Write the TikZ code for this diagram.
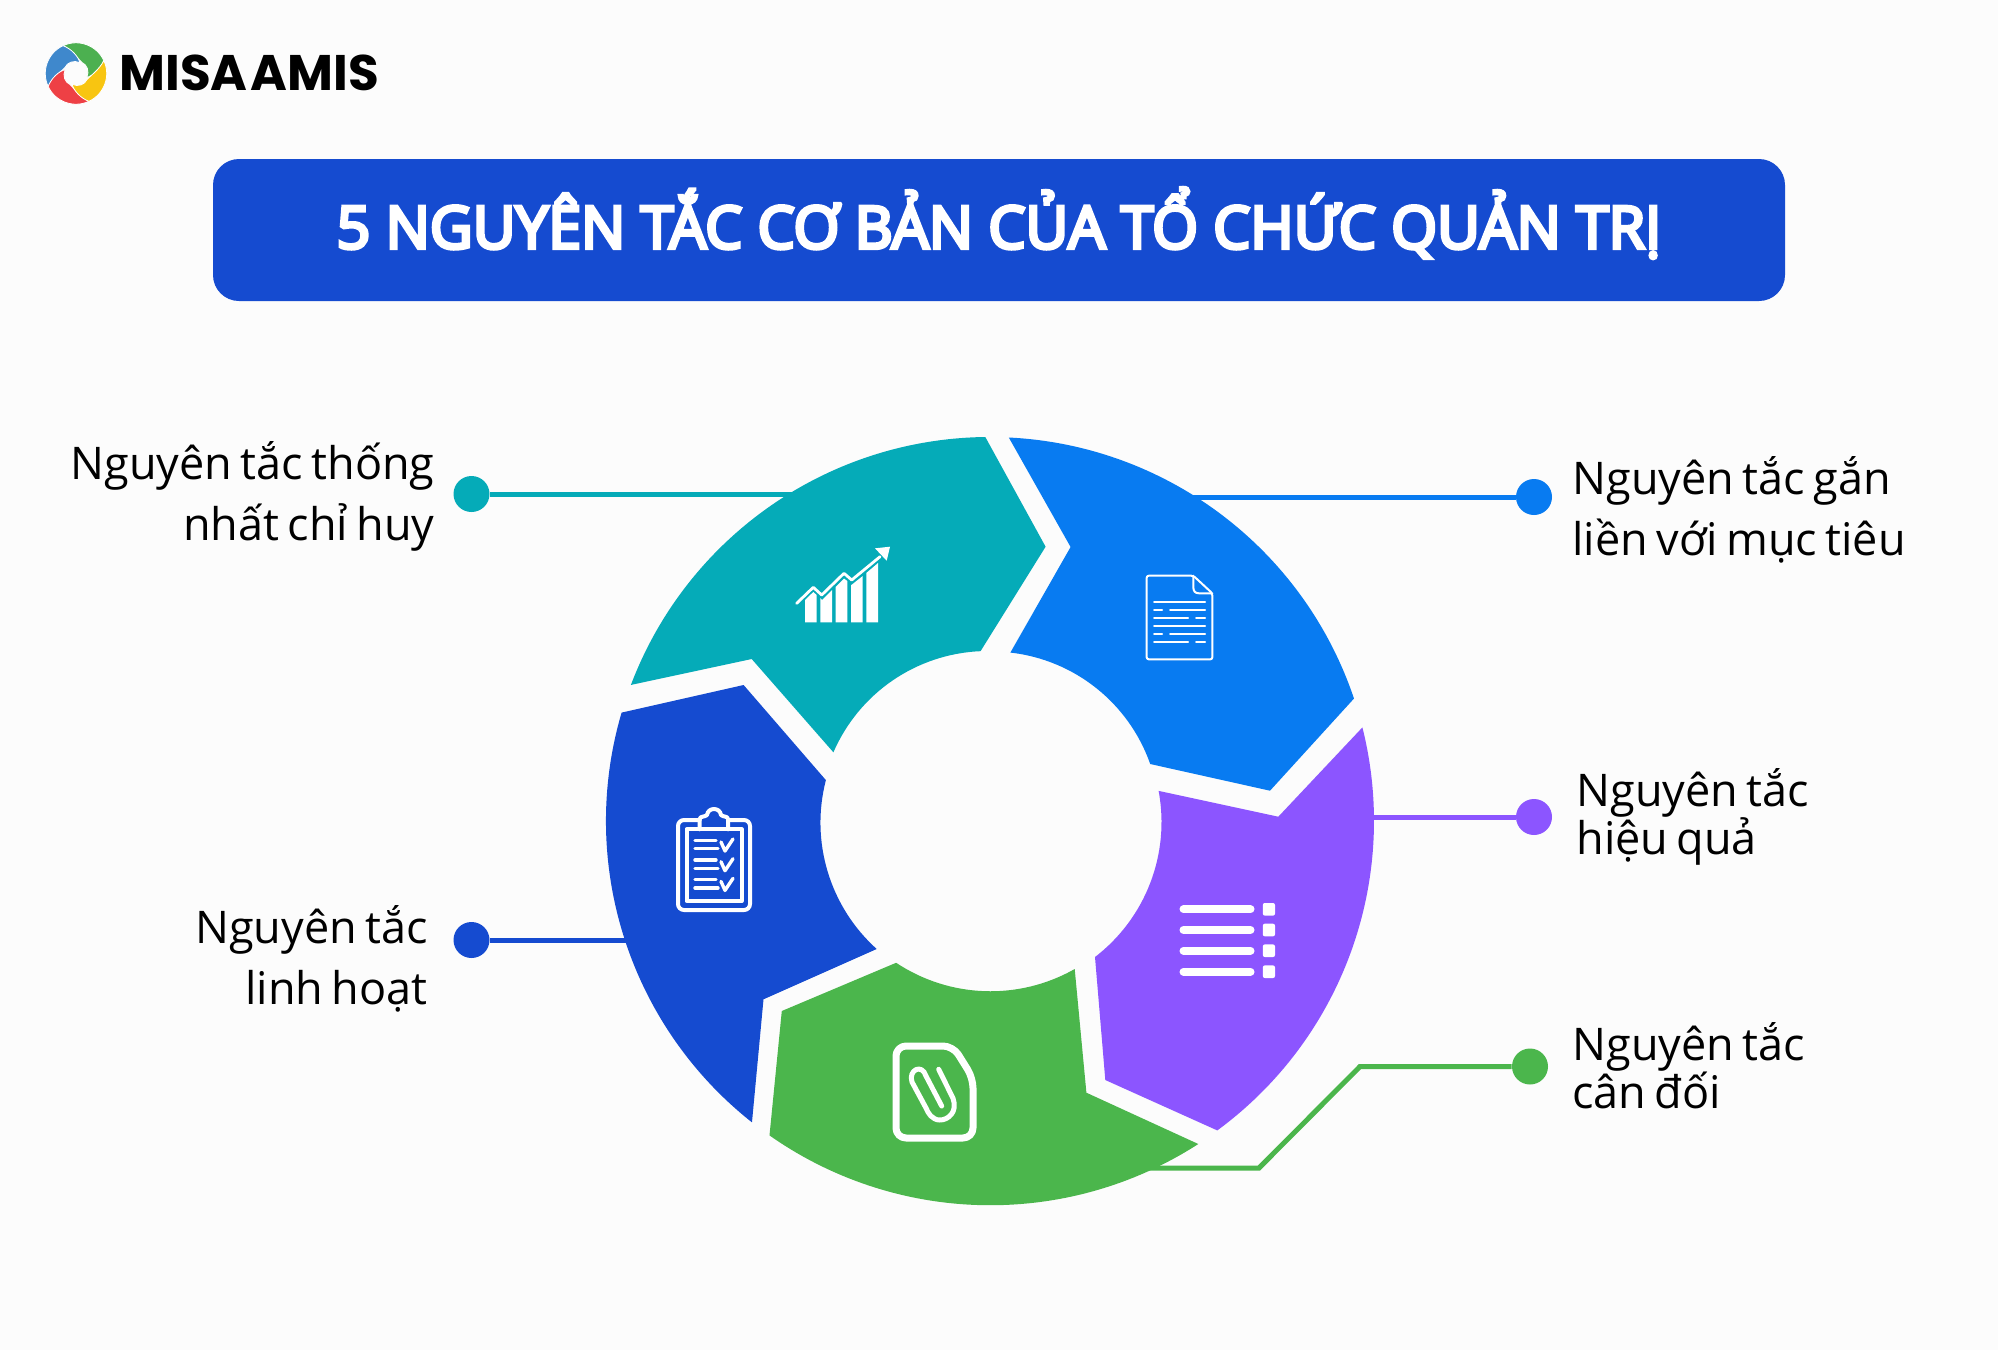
\documentclass[tikz,border=0pt]{standalone}
\usepackage{fontspec}
\setmainfont{Open Sans}[WordSpace=0.72]
\newfontfamily\titlefont{Open Sans}[FakeBold=6]
\newfontfamily\logofont{Poppins}[WordSpace=0.3]
\definecolor{pagebg}{HTML}{FCFCFC}
\definecolor{titleblue}{HTML}{154BD0}
\definecolor{segteal}{HTML}{05ABB8}
\definecolor{segblue}{HTML}{087BF1}
\definecolor{segpurple}{HTML}{8C55FF}
\definecolor{seggreen}{HTML}{4BB64C}
\definecolor{logogreen}{HTML}{4CB050}
\definecolor{logoblue}{HTML}{3F88CC}
\definecolor{logored}{HTML}{EE4045}
\definecolor{logoyellow}{HTML}{F8C511}
\begin{document}
\begin{tikzpicture}[x=0.5pt,y=0.5pt,
  label/.style={font=\fontsize{22.5}{30.5}\selectfont,inner sep=0pt,text=black},
  tightlabel/.style={font=\fontsize{22.5}{24.2}\selectfont,inner sep=0pt,text=black},
  dot/.style={circle,fill=#1,inner sep=0pt,minimum size=18pt},
  link/.style={draw=#1,line width=2.5pt},
  icon/.style={draw=white,line width=1pt,line join=round,line cap=round},
  iconfat/.style={draw=white,line width=3.5pt,line join=round}]

\useasboundingbox[fill=pagebg] (0,0) rectangle (1998,-1350);

\foreach \blade/\turn in {logogreen/0,logoblue/90,logored/180,logoyellow/270}{
  \begin{scope}[shift={(76,-73.5)},rotate=\turn]
  \fill[\blade,draw=white,line width=0.4pt] (115:30.7) arc[start angle=115,end angle=25,radius=30.7]
    .. controls (10:25) and (-8:17) .. (-20:11.5)
    .. controls (10:14) and (40:14) .. (60:12.5)
    .. controls (78:14) and (100:24) .. (115:30.7) -- cycle;
  \end{scope}
}
\node[anchor=west,inner sep=0pt,font=\logofont\bfseries\fontsize{25}{30}\selectfont] (logotext) at (119,-73) {MISA AMIS};

\node[fill=titleblue,rounded corners=13pt,minimum width=786pt,minimum height=71pt,inner sep=0pt] (titlebar) at (999,-230) {};
\node[text=white,inner sep=0pt,font=\titlefont\fontsize{29.4}{34}\selectfont] (titletext) at (999,-223) {5 NGUYÊN TẮC CƠ BẢN CỦA TỔ CHỨC QUẢN TRỊ};

\node[dot=segteal] (tealdot) at (471.5,-494) {};
\node[dot=segblue] (bluedot) at (1534,-497) {};
\node[dot=segpurple] (purpledot) at (1534,-817) {};
\node[dot=seggreen] (greendot) at (1530,-1066.5) {};
\node[dot=titleblue] (navydot) at (471.5,-940) {};

\coordinate (tealend) at (830,-494);
\coordinate (blueend) at (1150,-497);
\coordinate (purpleend) at (1350,-817);
\coordinate (navyend) at (650,-940);
\coordinate (greenbendtop) at (1360,-1066.5);
\coordinate (greenbendlow) at (1259,-1168);
\coordinate (greenend) at (1130,-1168);

\draw[link=segteal] (tealdot) -- (tealend);
\draw[link=segblue] (bluedot) -- (blueend);
\draw[link=segpurple] (purpledot) -- (purpleend);
\draw[link=titleblue] (navydot) -- (navyend);
\draw[link=seggreen] (greendot) -- (greenbendtop) -- (greenbendlow) -- (greenend);

\fill[segteal] (985.3,-437) arc[start angle=90.7,end angle=159.25,radius=384] -- (751.7,-659) -- (833.4,-752.3)
  arc[start angle=156.6,end angle=92.4,radius=168] -- (1045.6,-546.7) -- cycle;
\fill[segblue] (1008.8,-437.5) arc[start angle=87.2,end angle=18.6,radius=384] -- (1270,-790.7) -- (1150.2,-764)
  arc[start angle=19.3,end angle=83.6,radius=168] -- (1070.6,-547) -- cycle;
\fill[segpurple] (1362.4,-727.4) arc[start angle=14.1,end angle=-53.7,radius=384] -- (1105.3,-1080) -- (1095,-957)
  arc[start angle=-52.5,end angle=10.6,radius=170] -- (1278.3,-816.7) -- cycle;
\fill[seggreen] (769.5,-1135.4) arc[start angle=234.9,end angle=302.8,radius=384] -- (1086.4,-1092.7) -- (1074.7,-969)
  arc[start angle=299.6,end angle=236.4,radius=170.5] -- (781.8,-1011) -- cycle;
\fill[titleblue] (621.6,-712.6) arc[start angle=163.6,end angle=231.7,radius=384] -- (763.5,-999.3) -- (876.7,-949)
  arc[start angle=228,end angle=165.5,radius=170] -- (743.6,-685) -- cycle;

\fill[white] (805,-622.3) -- (805,-600) -- (813.3,-592) -- (816.7,-595) -- (816.7,-622.3) -- cycle;
\fill[white] (820.3,-622.3) -- (820.3,-598) -- (822,-600) -- (832,-590) -- (832,-622.3) -- cycle;
\fill[white] (835.7,-622.3) -- (835.7,-587) -- (844,-578.5) -- (847.3,-581) -- (847.3,-622.3) -- cycle;
\fill[white] (851,-622.3) -- (851,-585) -- (852,-584.5) -- (862.7,-576) -- (862.7,-622.3) -- cycle;
\fill[white] (866.3,-622.3) -- (866.3,-573) -- (878,-563) -- (878,-622.3) -- cycle;
\draw[white,line width=1.4pt,line cap=round,line join=round] (796.7,-603.3) -- (813.3,-587.3) -- (821.7,-595) -- (844,-573.3) -- (851.7,-580) -- (880,-556.7);
\fill[white] (890,-546.7) -- (875,-548.3) -- (886.7,-560.7) -- cycle;

\draw[icon,rounded corners=1pt] (1146.7,-575.7) -- (1193.3,-575.7) -- (1212.3,-593.3) -- (1212.3,-659.3) -- (1146.7,-659.3) -- cycle;
\draw[icon] (1193.3,-575.7) -- (1193.3,-587) .. controls (1193.3,-591) and (1195,-593.3) .. (1199,-593.3) -- (1212.3,-593.3);
\foreach \rowy in {601.7,625.7}{\draw[icon] (1154,-\rowy) -- (1205,-\rowy);}
\foreach \rowy in {609.7,633.7}{\draw[icon] (1154,-\rowy) -- (1162,-\rowy); \draw[icon] (1170,-\rowy) -- (1205,-\rowy);}
\foreach \rowy in {617.7,642}{\draw[icon] (1154,-\rowy) -- (1188,-\rowy); \draw[icon] (1196,-\rowy) -- (1205,-\rowy);}

\foreach \rowy in {909.3,930,950.7,971.7}{
  \draw[white,line width=4pt,line cap=round] (1183.5,-\rowy) -- (1250.5,-\rowy);
  \fill[white,rounded corners=1pt] (1262.8,-\rowy+6.3) rectangle (1275,-\rowy-6.3);
}

\draw[icon,line width=2pt,rounded corners=3pt] (699.7,-820) -- (678,-820) -- (678,-910) -- (750,-910) -- (750,-820) -- (727.9,-820);
\draw[icon,line width=2pt] (686.5,-829.3) rectangle (741.5,-901);
\draw[icon,line width=2pt] (699.7,-829.3) -- (699.7,-819) .. controls (700,-816) and (705,-817) .. (707,-815) .. controls (708,-807) and (720,-807) .. (721,-815) .. controls (723,-817) and (728,-816) .. (728,-819) -- (728,-829.3);
\foreach \rowy in {0,19.7,39.4}{
  \draw[icon,line width=1.7pt] (695,-840.3-\rowy) -- (716,-840.3-\rowy);
  \draw[icon,line width=1.7pt] (695,-848.7-\rowy) -- (718,-848.7-\rowy);
  \draw[icon,line width=1.7pt] (721,-842-\rowy) -- (725,-851-\rowy) -- (733,-839-\rowy);
}

\draw[iconfat,rounded corners=5pt] (896,-1046) -- (953,-1046) -- (973,-1078) -- (973,-1138) -- (896,-1138) -- cycle;
\draw[icon,line width=2.5pt] (938.7,-1069.3) -- (953,-1098.3) .. controls (958,-1112) and (948,-1120) .. (940,-1120) .. controls (932,-1120) and (928,-1113) .. (926,-1108) -- (912,-1082) .. controls (908,-1070) and (922,-1063) .. (926,-1076) -- (941.7,-1106);

\node[label,align=right,anchor=east] (tealtext) at (435,-496) {Nguyên tắc thống\\nhất chỉ huy};
\node[label,align=right,anchor=east] (navytext) at (428,-959) {Nguyên tắc\\linh hoạt};
\node[label,align=left,anchor=west] (bluetext) at (1572,-510) {Nguyên tắc gắn\\liền với mục tiêu};
\node[tightlabel,align=left,anchor=west] (purpletext) at (1576,-817) {Nguyên tắc\\hiệu quả};
\node[tightlabel,align=left,anchor=west] (greentext) at (1572,-1066) {Nguyên tắc\\cân đối};
\end{tikzpicture}
\end{document}
